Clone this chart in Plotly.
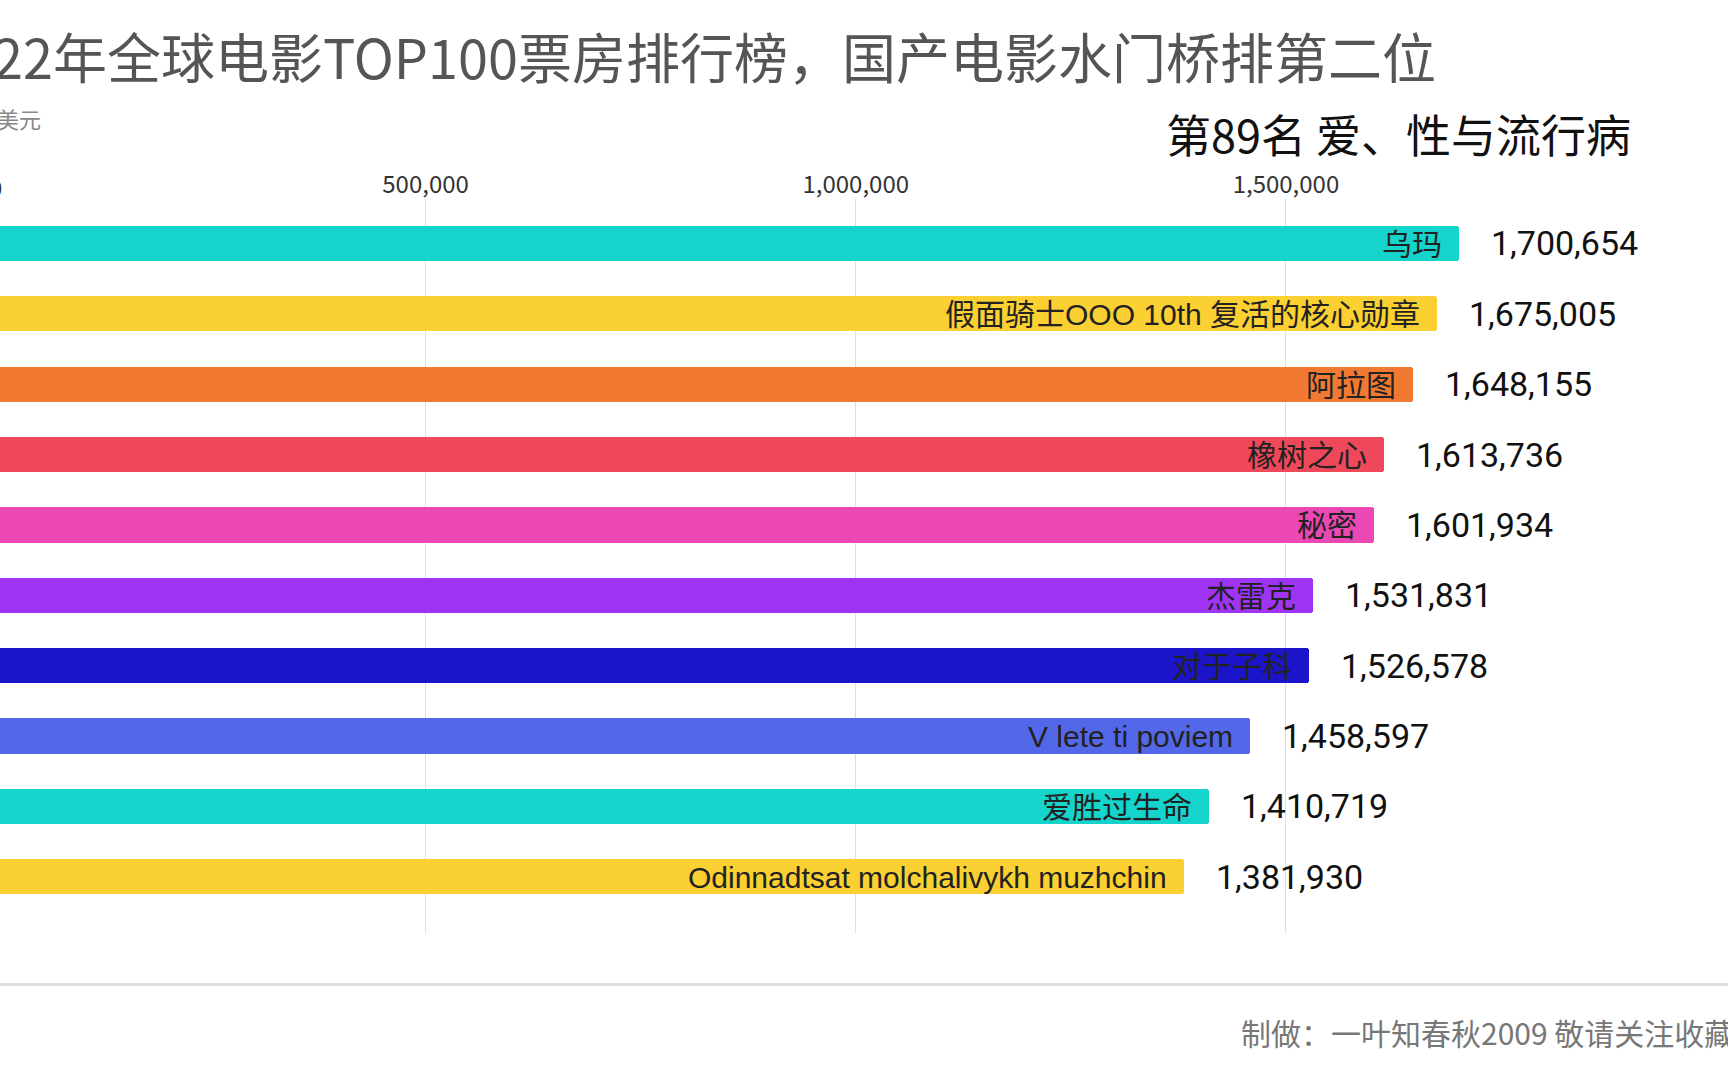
import plotly.graph_objects as go

# ---- data ----
titles = ["乌玛", "假面骑士OOO 10th 复活的核心勋章", "阿拉图", "橡树之心", "秘密",
          "杰雷克", "对于子科", "V lete ti poviem", "爱胜过生命",
          "Odinnadtsat molchalivykh muzhchin"]
box_office = [1700654, 1675005, 1648155, 1613736, 1601934,
              1531831, 1526578, 1458597, 1410719, 1381930]
bar_colors = ["#14D4CC", "#FAD032", "#F27931", "#EE485A", "#EC48B4",
              "#A034F5", "#1C14C8", "#5268E8", "#14D4CC", "#FAD032"]
tick_values = [500000, 1000000, 1500000]
tick_labels = ["500,000", "1,000,000", "1,500,000"]
zero_label = "0"
chart_title = "2022年全球电影TOP100票房排行榜，国产电影水门桥排第二位"
unit_label = "单位：美元"
current_rank_label = "第89名 爱、性与流行病"
credit = "制做：一叶知春秋2009 敬请关注收藏"

W, H = 1728, 1080
CJK = "Noto Sans CJK SC"
LABEL_FONT = "Liberation Sans, Noto Sans CJK SC"

rows = list(range(len(titles)))
x_lo, x_hi = 5347, 2013801
y_range = [9.80, -0.632]

fig = go.Figure()
fig.add_trace(go.Bar(
    x=box_office, y=rows, orientation="h", width=0.5,
    marker=dict(color=bar_colors, line=dict(width=0), cornerradius=3),
    hoverinfo="skip", cliponaxis=True,
))

annotations = []
for r, name, v in zip(rows, titles, box_office):
    annotations.append(dict(
        x=v, y=r, xref="x", yref="y", text=name, showarrow=False,
        xanchor="right", yanchor="middle", xshift=-15, yshift=-1,
        font=dict(family=LABEL_FONT, size=30, color="#222222")))
    annotations.append(dict(
        x=v, y=r, xref="x", yref="y", text=f"{v:,}", showarrow=False,
        xanchor="left", yanchor="middle", xshift=30,
        font=dict(family="Roboto", size=34, color="#111111")))

# "0" tick label (axis origin lies just left of the visible area)
annotations.append(dict(
    x=(0 - x_lo) / (x_hi - x_lo), y=1 - 186.5 / H, xref="paper", yref="paper",
    text=zero_label, showarrow=False, xanchor="center", yanchor="middle",
    font=dict(family=CJK, size=24, color="#333333")))

annotations.append(dict(
    x=1438 / W, y=1 - 55 / H, xref="paper", yref="paper", text=chart_title,
    showarrow=False, xanchor="right", yanchor="middle",
    font=dict(family=CJK, size=54, color="#555555")))
annotations.append(dict(
    x=43 / W, y=1 - 118 / H, xref="paper", yref="paper", text=unit_label,
    showarrow=False, xanchor="right", yanchor="middle",
    font=dict(family=CJK, size=22, color="#888888")))
annotations.append(dict(
    x=1633 / W, y=1 - 133.5 / H, xref="paper", yref="paper", text=current_rank_label,
    showarrow=False, xanchor="right", yanchor="middle",
    font=dict(family=CJK, size=45, color="#111111")))
annotations.append(dict(
    x=1239 / W, y=1 - 1032 / H, xref="paper", yref="paper", text=credit,
    showarrow=False, xanchor="left", yanchor="middle",
    font=dict(family=CJK, size=30, color="#777777")))

fig.update_layout(
    width=W, height=H,
    margin=dict(l=0, r=0, t=0, b=0, pad=0),
    paper_bgcolor="white", plot_bgcolor="white",
    showlegend=False,
    bargap=0,
    xaxis=dict(
        range=[x_lo, x_hi], domain=[0, 1], side="top",
        tickvals=tick_values, ticktext=tick_labels,
        showgrid=True, gridcolor="#DEDEDE", gridwidth=1,
        zeroline=False, showline=False, ticks="",
        tickfont=dict(family=CJK, size=24, color="#333333"),
        fixedrange=True,
    ),
    yaxis=dict(
        range=y_range, domain=[1 - 933 / H, 1 - 199 / H],
        showgrid=False, zeroline=False, showline=False,
        showticklabels=False, ticks="", fixedrange=True,
    ),
    annotations=annotations,
    shapes=[dict(type="line", xref="paper", yref="paper",
                 x0=0, x1=1, y0=1 - 984.5 / H, y1=1 - 984.5 / H,
                 line=dict(color="#E0E0E0", width=3))],
)

fig.write_html(
    "out.html",
    config={"displayModeBar": False},
    post_script="document.body.style.margin='0';document.body.style.overflow='hidden';",
)
